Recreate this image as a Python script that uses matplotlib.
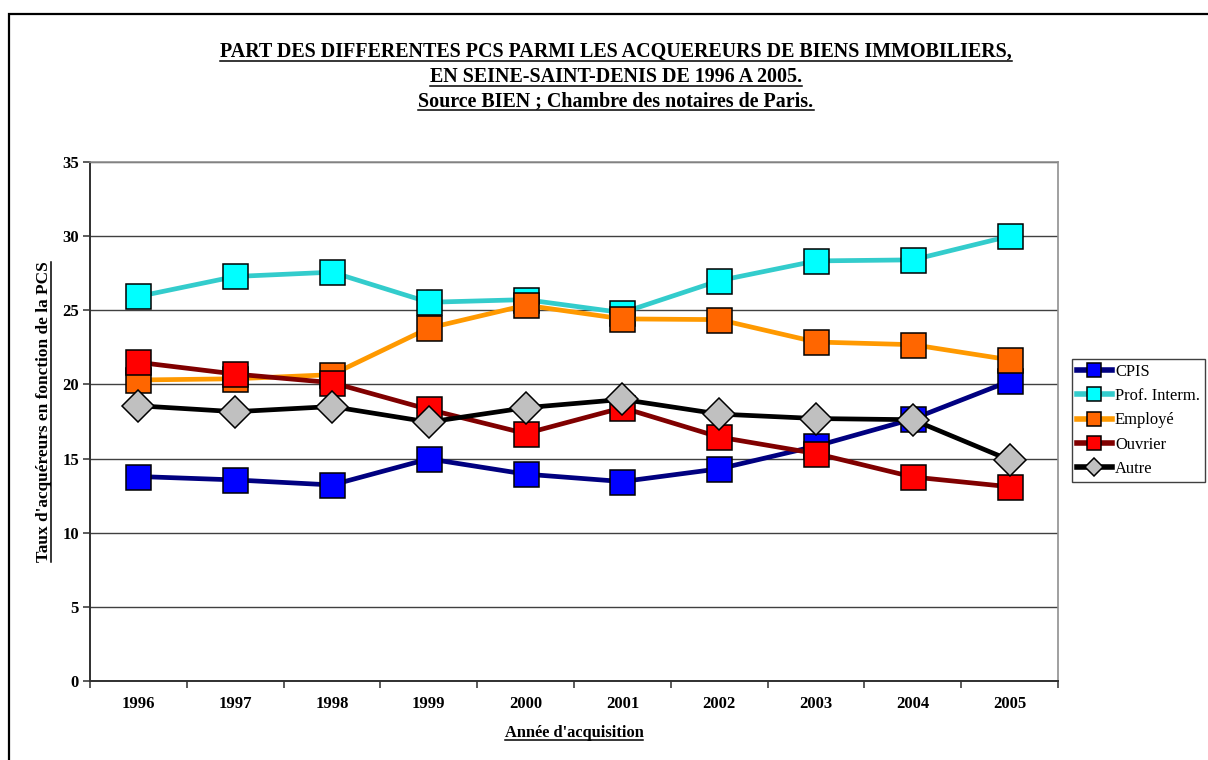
import matplotlib

matplotlib.use("Agg")
import matplotlib.pyplot as plt
from matplotlib.lines import Line2D
from matplotlib.patches import Rectangle

plt.rcParams["font.family"] = ["Liberation Serif", "DejaVu Serif"]

years = ["1996", "1997", "1998", "1999", "2000", "2001", "2002", "2003", "2004", "2005"]

cpis = [13.79, 13.56, 13.22, 14.98, 13.95, 13.45, 14.31, 15.84, 17.67, 20.22]
prof_interm = [25.93, 27.28, 27.57, 25.54, 25.72, 24.84, 27.00, 28.33, 28.40, 30.00]
employe = [20.30, 20.38, 20.66, 23.80, 25.34, 24.42, 24.37, 22.86, 22.68, 21.66]
ouvrier = [21.49, 20.70, 20.12, 18.31, 16.69, 18.43, 16.45, 15.34, 13.76, 13.10]
autre = [18.56, 18.16, 18.51, 17.46, 18.43, 18.99, 18.00, 17.70, 17.62, 14.90]

series = [
    ("CPIS", cpis, "#000080", "#0000FF", "s"),
    ("Prof. Interm.", prof_interm, "#33CCCC", "#00FFFF", "s"),
    ("Employé", employe, "#FF9900", "#FF6600", "s"),
    ("Ouvrier", ouvrier, "#800000", "#FF0000", "s"),
    ("Autre", autre, "#000000", "#C0C0C0", "D"),
]

title_lines = [
    "PART DES DIFFERENTES PCS PARMI LES ACQUEREURS DE BIENS IMMOBILIERS,",
    "EN SEINE-SAINT-DENIS DE 1996 A 2005.",
    "Source BIEN ; Chambre des notaires de Paris.",
]

W, H = 1208, 760
fig = plt.figure(figsize=(W / 100, H / 100), dpi=100)
fig.patch.set_facecolor("white")


def fx(px):
    return px / W


def fy(py):
    return 1 - py / H


# outer chart frame (runs off the right and bottom edges)
fig.add_artist(Rectangle((fx(9), fy(800)), fx(1260) - fx(9), fy(14) - fy(800),
                         transform=fig.transFigure, fill=False,
                         edgecolor="black", linewidth=1.6, clip_on=False))

ax = fig.add_axes([fx(90), fy(681), fx(1058) - fx(90), fy(162) - fy(681)])
x = list(range(len(years)))

for name, values, line_col, face_col, marker in series:
    ms = 16.6 if marker == "D" else 18
    ax.plot(x, values, color=line_col, linewidth=3.4, marker=marker,
            markersize=ms, markerfacecolor=face_col, markeredgecolor="black",
            markeredgewidth=1.1, label=name, solid_joinstyle="round")

ax.set_xlim(-0.5, len(years) - 0.5)
ax.set_ylim(0, 35)
ax.set_yticks(range(0, 36, 5))
ax.yaxis.grid(True, color="#404040", linewidth=1.0)
ax.set_axisbelow(True)

ax.set_xticks(x)
ax.set_xticklabels(years)
ax.set_xticks([i - 0.5 for i in range(len(years) + 1)], minor=True)
ax.tick_params(axis="x", which="major", length=0, pad=11, labelsize=12)
ax.tick_params(axis="x", which="minor", length=5, width=1.2, color="#404040",
               direction="out")
ax.tick_params(axis="y", length=5, width=1.2, color="#404040", pad=3,
               labelsize=12)
for lab in ax.get_xticklabels() + ax.get_yticklabels():
    lab.set_fontweight("bold")

for side in ("left", "bottom"):
    ax.spines[side].set_color("#303030")
    ax.spines[side].set_linewidth(1.4)
for side in ("right", "top"):
    ax.spines[side].set_color("#909090")
    ax.spines[side].set_linewidth(1.2)

leg = fig.legend(loc="upper left", bbox_to_anchor=(fx(1072), fy(359)),
                 bbox_transform=fig.transFigure, frameon=True, fancybox=False,
                 edgecolor="#404040", framealpha=1, fontsize=11.9,
                 markerscale=0.55, handlelength=2.1, handletextpad=0.2,
                 labelspacing=0.5, borderpad=0.3, borderaxespad=0)
leg.get_frame().set_linewidth(1.0)
for h in leg.legend_handles:
    h.set_linewidth(4.0)

texts = []
for i, line in enumerate(title_lines):
    texts.append(fig.text(fx(616), fy(52 + 24.5 * i), line, ha="center",
                          va="center", fontsize=14.4, fontweight="bold"))
texts.append(fig.text(fx(574), fy(733), "Année d'acquisition", ha="center",
                      va="center", fontsize=11.8, fontweight="bold"))
ylab = fig.text(fx(44), fy(412), "Taux d'acquéreurs en fonction de la PCS",
                ha="center", va="center", rotation=90, fontsize=12.4,
                fontweight="bold")

# underline the bold captions
renderer = fig.canvas.get_renderer()
inv = fig.transFigure.inverted()
for t in texts:
    bb = t.get_window_extent(renderer)
    (x0, y0), (x1, _) = inv.transform([(bb.x0, bb.y0), (bb.x1, bb.y1)])
    yl = y0 + 1.0 / H
    fig.add_artist(Line2D([x0, x1], [yl, yl], transform=fig.transFigure,
                          color="black", linewidth=1.1))
bb = ylab.get_window_extent(renderer)
(x0, y0), (x1, y1) = inv.transform([(bb.x0, bb.y0), (bb.x1, bb.y1)])
xl = x1 - 1.0 / W
fig.add_artist(Line2D([xl, xl], [y0, y1], transform=fig.transFigure,
                      color="black", linewidth=1.1))

fig.savefig("out.png", dpi=100)
